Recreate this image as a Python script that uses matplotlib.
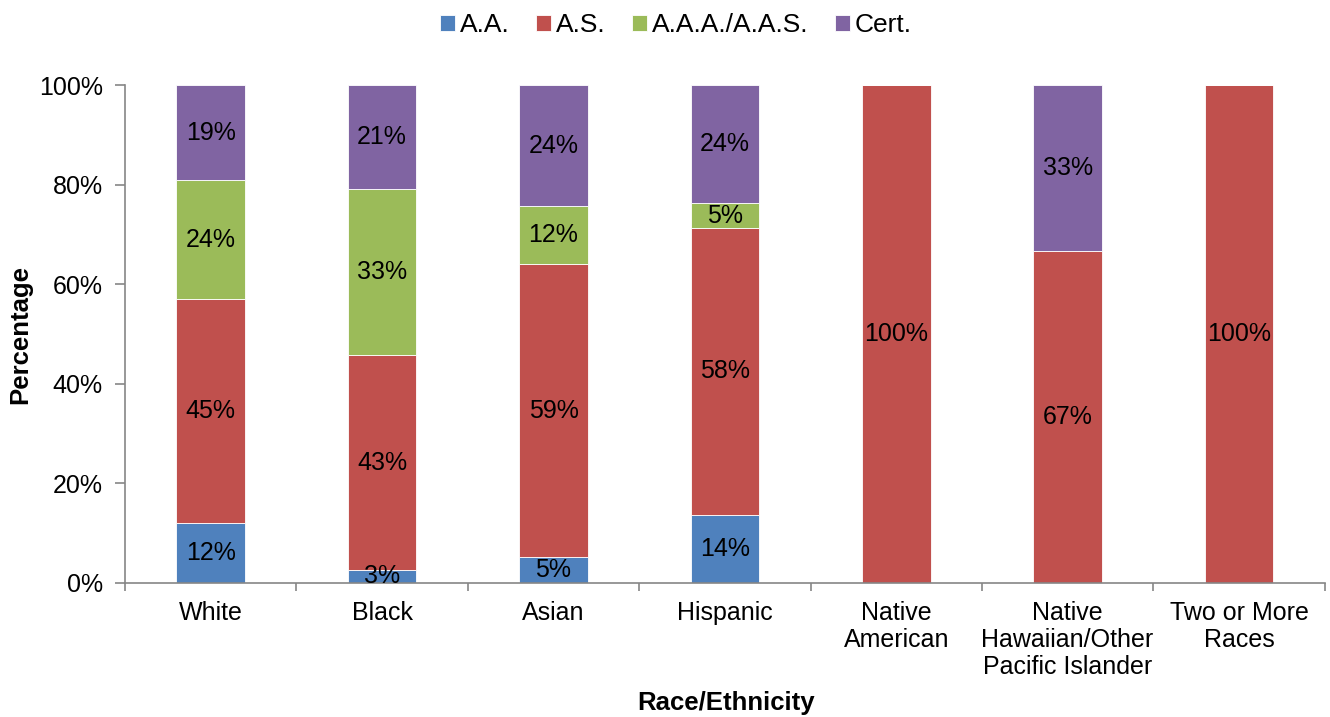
import matplotlib
matplotlib.use("Agg")
import matplotlib.pyplot as plt
import numpy as np
from matplotlib.ticker import FixedLocator, PercentFormatter

plt.rcParams['font.family'] = ['Liberation Sans', 'DejaVu Sans']

categories = ["White", "Black", "Asian", "Hispanic", "Native\nAmerican",
              "Native\nHawaiian/Other\nPacific Islander", "Two or More\nRaces"]
series_names = ["A.A.", "A.S.", "A.A.A./A.A.S.", "Cert."]
aa = [12.0, 2.6, 5.2, 13.7, 0, 0, 0]
as_ = [45.0, 43.2, 58.9, 57.6, 100.0, 66.7, 100.0]
aaa = [24.0, 33.3, 11.6, 5.0, 0, 0, 0]
cert = [19.0, 20.9, 24.3, 23.7, 0, 33.3, 0]
colors = ["#4F81BD", "#C0504D", "#9BBB59", "#8064A2"]

FS = 18

fig = plt.figure(figsize=(13.3, 7.17), dpi=100)
ax = fig.add_axes([0.094, 0.187, 0.902, 0.694])

x = np.arange(len(categories))
bottom = np.zeros(len(categories))
handles = []
for name, vals, col in zip(series_names, [aa, as_, aaa, cert], colors):
    vals = np.array(vals)
    b = ax.bar(x, vals, 0.4, bottom=bottom, color=col, edgecolor='white',
               linewidth=0.6, label=name)
    handles.append(b)
    for xi, v, bt in zip(x, vals, bottom):
        if v > 0:
            ax.text(xi, bt + v / 2, f"{round(v):.0f}%", ha='center', va='center',
                    fontsize=FS, color='black')
    bottom += vals

ax.set_xlim(-0.5, len(categories) - 0.5)
ax.set_ylim(0, 100)
ax.yaxis.set_major_locator(FixedLocator([0, 20, 40, 60, 80, 100]))
ax.yaxis.set_major_formatter(PercentFormatter(decimals=0))
ax.set_xticks(x)
ax.set_xticklabels(categories, fontsize=FS, linespacing=1.16)
ax.xaxis.set_minor_locator(FixedLocator(np.arange(-0.5, len(categories), 1.0)))
ax.tick_params(axis='x', which='major', length=0, pad=13)
ax.tick_params(axis='x', which='minor', length=6, color='#868686', width=1.2)
ax.tick_params(axis='y', labelsize=FS, length=7, color='#868686', width=1.2, pad=9)
for s in ['top', 'right']:
    ax.spines[s].set_visible(False)
for s in ['left', 'bottom']:
    ax.spines[s].set_color('#868686')
    ax.spines[s].set_linewidth(1.2)

fig.text(20 / 1330, 1 - 334 / 717, "Percentage", rotation=90, ha='center', va='center',
         fontsize=18.5, fontweight='bold')
fig.text(726 / 1330, 1 - 703 / 717, "Race/Ethnicity", ha='center', va='center',
         fontsize=18.5, fontweight='bold')

fig.legend(handles=handles, labels=series_names, loc='center',
           bbox_to_anchor=(676 / 1330, 1 - 25 / 717), ncol=4, frameon=False, fontsize=19,
           handlelength=0.56, handleheight=0.56, handletextpad=0.19, columnspacing=1.0,
           borderpad=0.1)

fig.savefig("out.png", dpi=100)
